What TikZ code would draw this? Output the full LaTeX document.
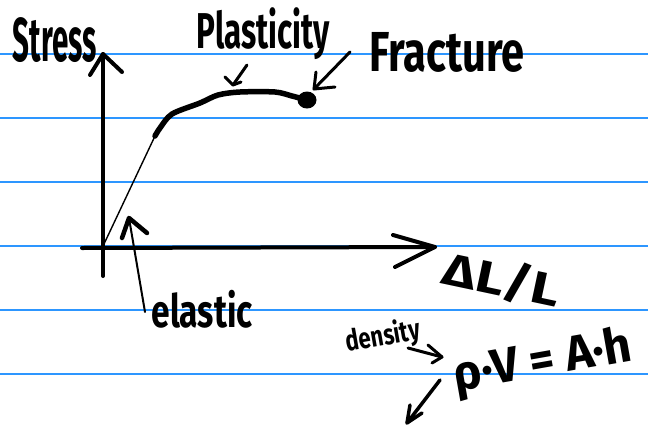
\documentclass[tikz,border=0pt]{standalone}
\usepackage{fontspec}
\setmainfont{Fira Sans}
\usepackage{graphicx}
\definecolor{ruleblue}{RGB}{45,150,255}
% squeeze a handwritten word into a given width and total height
\newcommand{\inkword}[3]{\resizebox*{#1}{#2}{#3}}

\begin{document}
\begin{tikzpicture}[x=1pt,y=-1pt,line cap=round,line join=round,
  ruled/.style={draw=ruleblue,line width=1.3pt},
  axisline/.style={line width=4pt},
  curveline/.style={line width=5.5pt},
  pen/.style={line width=3pt},
  thinpen/.style={line width=1.4pt},
  word/.style={inner sep=0pt,font=\bfseries}]
\useasboundingbox (0,0) rectangle (648,429);
\fill[white] (0,0) rectangle (648,429);

% ruled notebook paper
\foreach \yy in {54,118,182,246,310,374}
  \draw[ruled] (0,\yy) -- (648,\yy);

% axes
\coordinate (ytip) at (103,54);
\coordinate (ybot) at (103,276);
\coordinate (xleft) at (82,248);
\coordinate (xtip) at (435,247);
\draw[axisline] (ybot) -- (ytip);
\draw[axisline] (ytip) ++(-13,21) -- (ytip) -- ++(19,18);
\draw[axisline] (xleft) -- (xtip);
\draw[axisline] (xtip) ++(-42,-12) -- (xtip) -- ++(-40,20);

% stress-strain curve
\coordinate (start) at (104,244);
\coordinate (yield) at (155,136);
\coordinate (frac) at (307,100);
\draw[thinpen] (start) -- (yield);
\draw[curveline] plot[smooth] coordinates {(yield) (160,128) (172,114) (200,103) (218,95) (240,92) (275,92) (292,96) (frac)};
\fill (frac) circle[x radius=9.5pt,y radius=8.5pt];

% labels
\node[word] (stress) at (55,40) {\inkword{84pt}{45pt}{Stress}};
\node[word] (plast) at (263,34) {\inkword{133pt}{52pt}{Plasticity}};
\node[word] (fract) at (447,52) {\inkword{155pt}{40pt}{Fracture}};
\node[word] (elast) at (202,309) {\inkword{101pt}{38pt}{elastic}};
\node[word,rotate=-12] (strain) at (502,280) {\inkword{118pt}{42pt}{ΔL/L}};
\node[word,rotate=10] (dens) at (383,337) {\inkword{75pt}{30pt}{density}};
\node[word,rotate=10] (eqn) at (543,363) {\inkword{180pt}{48pt}{ρ·V = A·h}};

% pointer arrows
\coordinate (plA) at (247,65);
\coordinate (plB) at (233,85);
\draw[pen] (plA) -- (plB);
\draw[pen] (plB) ++(-8,-8) -- (plB) -- ++(8,-3);

\coordinate (frA) at (350,52);
\coordinate (frB) at (314,89);
\draw[pen] (frA) -- (frB);
\draw[pen] (frB) ++(2,-17) -- (frB) -- ++(21,-2);

\coordinate (elA) at (145,312);
\coordinate (elB) at (129,218);
\draw[line width=2pt] (elA) -- (elB);
\draw[line width=4.5pt] (elB) ++(-7,20) -- (elB) -- ++(18,15);

\coordinate (dnA) at (408,348);
\coordinate (dnB) at (442,357);
\draw[pen] (dnA) -- (dnB);
\draw[pen] (dnB) ++(-14,-12) -- (dnB) -- ++(-10,6);

\coordinate (eqA) at (440,380);
\coordinate (eqB) at (407,423);
\draw[line width=3.5pt] (eqA) -- (eqB);
\draw[line width=3.5pt] (eqB) ++(3,-18) -- (eqB) -- ++(15,-10);
\end{tikzpicture}
\end{document}
